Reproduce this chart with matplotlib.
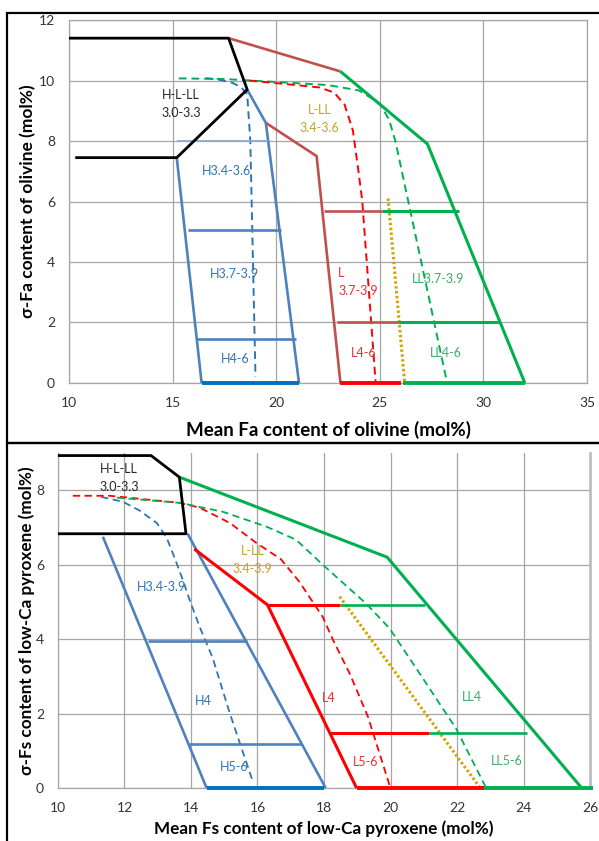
import matplotlib
matplotlib.use("Agg")
import matplotlib.pyplot as plt
from matplotlib.patches import Rectangle

# ---------------- olivine (top panel) ----------------
ol_black_x = [10.0, 17.7, 18.6, 15.2, 10.3]
ol_black_y = [11.4, 11.4, 9.7, 7.45, 7.45]

ol_h_left_x = [15.2, 16.4]
ol_h_left_y = [7.45, 0.0]
ol_h_right_x = [18.6, 19.5, 21.1]
ol_h_right_y = [9.7, 8.6, 0.0]
ol_h_tie_y = [8.0, 5.05, 1.45]
ol_h_tie_x0 = [15.2, 15.75, 16.2]
ol_h_tie_x1 = [19.6, 20.25, 20.95]
ol_h_base_x = [16.4, 21.1]
ol_h_dash_x = [16.6, 17.3, 17.9, 18.3, 18.6, 18.75, 19.0]
ol_h_dash_y = [10.08, 10.02, 9.92, 9.78, 9.55, 8.0, 0.2]

ol_l_top_x = [17.7, 23.1]
ol_l_top_y = [11.4, 10.3]
ol_l_left_x = [19.5, 21.95, 23.1]
ol_l_left_y = [8.6, 7.5, 0.0]
ol_l_tie_y = [5.69, 2.03]
ol_l_tie_x0 = [22.3, 22.95]
ol_l_tie_x1 = [25.1, 25.9]
ol_l_base_x = [23.1, 26.0]
ol_l_dash_x = [18.7, 20.2, 22.1, 22.8, 23.3, 23.7, 23.95, 24.15, 24.8]
ol_l_dash_y = [10.0, 9.9, 9.77, 9.6, 9.2, 8.35, 7.1, 6.04, 0.0]

ol_ll_out_x = [23.1, 27.3, 32.0]
ol_ll_out_y = [10.3, 7.9, 0.0]
ol_ll_tie_y = [5.69, 2.03]
ol_ll_tie_x0 = [25.1, 25.9]
ol_ll_tie_x1 = [28.8, 30.8]
ol_ll_base_x = [26.1, 32.0]
ol_ll_dash_x = [15.3, 17.5, 20.0, 22.5, 24.0, 25.0, 25.45, 25.75, 28.25]
ol_ll_dash_y = [10.07, 10.05, 9.95, 9.85, 9.67, 9.24, 8.7, 8.0, 0.0]

ol_gold_x = [25.4, 26.2]
ol_gold_y = [6.1, 0.0]

ol_labels = ["H-L-LL\n3.0-3.3", "L-LL\n3.4-3.6", "H3.4-3.6", "H3.7-3.9", "H4-6",
             "L\n3.7-3.9", "L4-6", "LL3.7-3.9", "LL4-6"]

# ---------------- low-Ca pyroxene (bottom panel) ----------------
px_black_x = [10.0, 12.8, 13.65, 13.85, 10.0]
px_black_y = [8.93, 8.93, 8.35, 6.83, 6.83]

px_h_left_x = [11.35, 14.47]
px_h_left_y = [6.75, 0.0]
px_h_right_x = [13.9, 18.05]
px_h_right_y = [6.83, 0.0]
px_h_tie_y = [3.95, 1.18]
px_h_tie_x0 = [12.7, 13.95]
px_h_tie_x1 = [15.68, 17.35]
px_h_base_x = [14.47, 18.0]
px_h_dash_x = [11.3, 11.95, 12.46, 12.97, 13.27, 13.5, 13.75, 13.96, 14.26, 14.65, 15.17, 15.85]
px_h_dash_y = [7.82, 7.69, 7.45, 7.12, 6.72, 6.2, 5.6, 5.05, 4.33, 3.5, 2.0, 0.2]

px_l_out_x = [14.1, 16.3, 18.98]
px_l_out_y = [6.42, 4.92, 0.0]
px_l_tie_y = [4.92, 1.48]
px_l_tie_x0 = [16.3, 18.15]
px_l_tie_x1 = [18.47, 21.17]
px_l_base_x = [18.98, 22.8]
px_l_dash_x = [10.45, 11.56, 13.66, 14.26, 15.17, 15.97, 16.7, 17.25, 17.96, 18.27, 18.77, 19.32, 19.97]
px_l_dash_y = [7.85, 7.85, 7.66, 7.53, 7.12, 6.58, 6.15, 5.55, 4.6, 3.98, 3.08, 1.92, 0.08]

px_ll_out_x = [13.65, 19.9, 25.75]
px_ll_out_y = [8.35, 6.2, 0.0]
px_ll_tie_y = [4.92, 1.48]
px_ll_tie_x0 = [18.47, 21.17]
px_ll_tie_x1 = [21.05, 24.1]
px_ll_base_x = [22.8, 26.1]
px_ll_dash_x = [11.77, 13.66, 14.96, 16.27, 17.16, 17.96, 19.26, 19.97, 20.97, 21.97, 22.85]
px_ll_dash_y = [7.8, 7.66, 7.42, 7.02, 6.67, 6.0, 4.96, 4.29, 2.95, 1.6, 0.05]

px_gold_x = [18.47, 22.7]
px_gold_y = [5.14, 0.0]

px_labels = ["H-L-LL\n3.0-3.3", "L-LL\n3.4-3.9", "H3.4-3.9", "H4", "H5-6",
             "L4", "L5-6", "LL4", "LL5-6"]

# colours
BLUE = "#4F81BD"
BLUE_LIGHT = "#8DA9D4"
BLUE_DASH = "#2E75B6"
BLUE_BASE = "#0070C0"
BROWN = "#C0504D"
RED = "#FF0000"
GREEN = "#00B050"
GOLD = "#D4A300"
GRID = "#A6A6A6"

plt.rcParams["font.family"] = ["Lato", "DejaVu Sans"]

DASH = (0, (4, 2.5))


def line(ax, x, y, color, lw=1.9, ls="-", z=3):
    ax.plot(x, y, color=color, lw=lw, ls=ls, zorder=z, clip_on=False,
            solid_capstyle="butt", dash_capstyle="butt")


def ties(ax, y, x0, x1, color, lw=1.9):
    for yy, a, b in zip(y, x0, x1):
        line(ax, [a, b], [yy, yy], color, lw=lw)


def style_axes(ax, xlim, ylim, xticks, yticks, xlabel, ylabel, xsize, ysize, xpos, ypos):
    ax.set_xlim(*xlim)
    ax.set_ylim(*ylim)
    ax.set_xticks(xticks)
    ax.set_yticks(yticks)
    ax.grid(True, color=GRID, lw=0.9, zorder=0)
    ax.set_axisbelow(True)
    for s in ax.spines.values():
        s.set_color(GRID)
        s.set_linewidth(0.9)
    ax.tick_params(length=0, pad=10, labelsize=10, labelcolor="#333333")
    ax.set_xlabel(xlabel, fontsize=xsize, fontweight="bold", va="center")
    ax.set_ylabel(ylabel, fontsize=ysize, fontweight="bold", va="center")
    ax.xaxis.set_label_coords(0.5, xpos)
    ax.yaxis.set_label_coords(ypos, 0.5)


fig = plt.figure(figsize=(5.99, 8.41), dpi=100)

# ---------------- top panel ----------------
ax1 = fig.add_axes([0.1152, 0.5446, 0.8648, 0.4316])
style_axes(ax1, (10, 35), (0, 12), range(10, 36, 5), range(0, 13, 2),
           "Mean Fa content of olivine (mol%)", "σ-Fa content of olivine (mol%)",
           13.5, 12.5, -0.129, -0.079)

line(ax1, ol_h_dash_x, ol_h_dash_y, BLUE_DASH, lw=1.4, ls=DASH)
line(ax1, ol_ll_dash_x, ol_ll_dash_y, GREEN, lw=1.4, ls=DASH)
line(ax1, ol_l_dash_x, ol_l_dash_y, RED, lw=1.4, ls=DASH)
line(ax1, ol_gold_x, ol_gold_y, GOLD, lw=2.2, ls=(0, (0.8, 0.8)))

line(ax1, ol_h_left_x, ol_h_left_y, BLUE)
line(ax1, ol_h_right_x, ol_h_right_y, BLUE)
line(ax1, [ol_h_tie_x0[0], ol_h_tie_x1[0]], [ol_h_tie_y[0]] * 2, BLUE_LIGHT, lw=1.3)
ties(ax1, ol_h_tie_y[1:], ol_h_tie_x0[1:], ol_h_tie_x1[1:], BLUE)
line(ax1, ol_h_base_x, [0, 0], BLUE_BASE, lw=2.8)

line(ax1, ol_l_top_x, ol_l_top_y, BROWN)
line(ax1, ol_l_left_x, ol_l_left_y, BROWN)
ties(ax1, ol_l_tie_y, ol_l_tie_x0, ol_l_tie_x1, BROWN)
line(ax1, ol_l_base_x, [0, 0], RED, lw=2.8)

line(ax1, ol_ll_out_x, ol_ll_out_y, GREEN, lw=2.2)
ties(ax1, ol_ll_tie_y, ol_ll_tie_x0, ol_ll_tie_x1, GREEN, lw=2.2)
line(ax1, ol_ll_base_x, [0, 0], GREEN, lw=2.8)

line(ax1, ol_black_x, ol_black_y, "black", lw=2.0, z=4)

lab_kw = dict(fontsize=9, ha="center", va="center", linespacing=1.6, zorder=6)
ax1.text(15.4, 9.22, ol_labels[0], color="#262626", **lab_kw)
ax1.text(22.1, 8.72, ol_labels[1], color="#C9A227", **lab_kw)
ax1.text(17.6, 7.0, ol_labels[2], color=BLUE_DASH, **lab_kw)
ax1.text(18.0, 3.6, ol_labels[3], color=BLUE_DASH, **lab_kw)
ax1.text(18.0, 0.8, ol_labels[4], color=BLUE_DASH, **lab_kw)
ax1.text(23.0, 3.33, ol_labels[5], color="#E8303A", fontsize=9, ha="left",
         va="center", linespacing=1.6, zorder=6)
ax1.text(24.2, 0.98, ol_labels[6], color="#E8303A", **lab_kw)
ax1.text(27.8, 3.43, ol_labels[7], color="#3DAE6A", **lab_kw)
ax1.text(28.2, 0.98, ol_labels[8], color="#3DAE6A", **lab_kw)

# ---------------- bottom panel ----------------
ax2 = fig.add_axes([0.0968, 0.063, 0.8882, 0.3984])
style_axes(ax2, (10, 26), (0, 9), range(10, 27, 2), range(0, 9, 2),
           "Mean Fs content of low-Ca pyroxene (mol%)",
           "σ-Fs content of low-Ca pyroxene (mol%)",
           12.3, 12.3, -0.122, -0.058)
ax2.spines["top"].set_visible(False)
ax2.spines["right"].set_color("#BFBFBF")
ax2.spines["right"].set_linewidth(2.0)

line(ax2, px_h_dash_x, px_h_dash_y, BLUE_DASH, lw=1.3, ls=DASH)
line(ax2, px_l_dash_x, px_l_dash_y, RED, lw=1.3, ls=DASH)
line(ax2, px_ll_dash_x, px_ll_dash_y, GREEN, lw=1.3, ls=DASH)
line(ax2, px_gold_x, px_gold_y, GOLD, lw=2.2, ls=(0, (0.8, 0.8)))

line(ax2, px_h_left_x, px_h_left_y, BLUE)
line(ax2, px_h_right_x, px_h_right_y, BLUE)
ties(ax2, px_h_tie_y, px_h_tie_x0, px_h_tie_x1, BLUE)
line(ax2, px_h_base_x, [0, 0], BLUE_BASE, lw=2.8)

line(ax2, px_l_out_x, px_l_out_y, RED, lw=2.2)
ties(ax2, px_l_tie_y, px_l_tie_x0, px_l_tie_x1, RED, lw=2.2)
line(ax2, px_l_base_x, [0, 0], RED, lw=2.8)

line(ax2, px_ll_out_x, px_ll_out_y, GREEN, lw=2.2)
ties(ax2, px_ll_tie_y, px_ll_tie_x0, px_ll_tie_x1, GREEN, lw=1.9)
line(ax2, px_ll_base_x, [0, 0], GREEN, lw=2.8)

line(ax2, px_black_x, px_black_y, "black", lw=2.0, z=4)

ax2.text(11.83, 8.33, px_labels[0], color="#262626", **lab_kw)
ax2.text(15.85, 6.12, px_labels[1], color="#C9A227", **lab_kw)
ax2.text(13.12, 5.4, px_labels[2], color=BLUE_DASH, **lab_kw)
ax2.text(14.38, 2.34, px_labels[3], color=BLUE_DASH, **lab_kw)
ax2.text(15.3, 0.56, px_labels[4], color=BLUE_DASH, **lab_kw)
ax2.text(18.14, 2.41, px_labels[5], color="#E8303A", **lab_kw)
ax2.text(19.25, 0.7, px_labels[6], color="#E8303A", **lab_kw)
ax2.text(22.46, 2.45, px_labels[7], color="#3DAE6A", **lab_kw)
ax2.text(23.5, 0.73, px_labels[8], color="#3DAE6A", **lab_kw)

# panel frames
fig.add_artist(Rectangle((0.0117, 0.4732), 1.0, 0.5113, transform=fig.transFigure,
                         fill=False, ec="black", lw=1.6))
fig.add_artist(Rectangle((0.0117, -0.02), 1.0, 0.4932, transform=fig.transFigure,
                         fill=False, ec="black", lw=1.6))

fig.savefig("out.png", dpi=100)
